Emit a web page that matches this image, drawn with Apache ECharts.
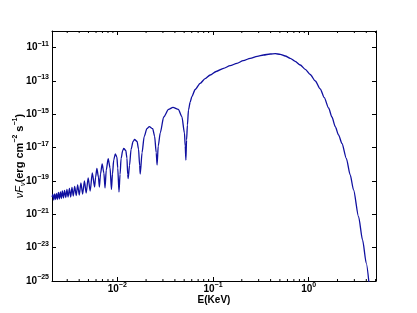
<!DOCTYPE html>
<html>
<head>
<meta charset="utf-8">
<script src="https://cdn.jsdelivr.net/npm/echarts@6/dist/echarts.min.js"></script>
<style>html,body{margin:0;padding:0;background:#fff}#c{width:417px;height:313px}</style>
</head>
<body>
<div id="c"></div>
<script>
// log10 of photon energy (keV)
const logEnergy = [
-2.681,-2.673,-2.663,-2.654,-2.645,-2.635,-2.626,-2.615,-2.605,-2.594,
-2.584,-2.574,-2.562,-2.551,-2.538,-2.526,-2.514,-2.500,-2.487,-2.473,
-2.460,-2.445,-2.429,-2.414,-2.397,-2.380,-2.362,-2.343,-2.325,-2.304,
-2.283,-2.261,-2.237,-2.226,-2.213,-2.197,-2.187,-2.175,-2.158,-2.140,
-2.128,-2.115,-2.095,-2.075,-2.061,-2.050,-2.037,-2.021,-2.004,-1.995,
-1.982,-1.971,-1.960,-1.943,-1.932,-1.911,-1.899,-1.891,-1.886,-1.872,
-1.856,-1.835,-1.819,-1.793,-1.778,-1.766,-1.760,-1.741,-1.719,-1.690,
-1.665,-1.630,-1.610,-1.593,-1.584,-1.572,-1.551,-1.515,-1.464,-1.418,
-1.362,-1.325,-1.298,-1.290,-1.283,-1.276,-1.267,-1.256,-1.238,-1.221,
-1.186,-1.134,-1.082,-1.029,-0.967,-0.890,-0.820,-0.750,-0.684,-0.611,
-0.538,-0.472,-0.402,-0.350,-0.297,-0.245,-0.193,-0.141,-0.088,-0.036,
0.016,0.069,0.121,0.163,0.208,0.243,0.278,0.312,0.348,0.393,
0.434,0.469,0.521,0.563,0.602,0.631
];
// log10 of nuF_nu (erg cm^-2 s^-1)
const logFlux = [
-19.96,-19.81,-20.14,-19.78,-20.11,-19.75,-20.11,-19.69,-20.08,-19.66,
-20.05,-19.60,-20.02,-19.57,-19.99,-19.51,-19.96,-19.45,-19.96,-19.39,
-19.90,-19.33,-19.87,-19.24,-19.84,-19.12,-19.78,-19.00,-19.72,-18.82,
-19.60,-18.52,-19.36,-18.76,-18.24,-18.76,-19.36,-18.58,-17.98,-18.52,
-19.42,-18.34,-17.66,-18.22,-19.51,-18.58,-17.74,-17.38,-17.56,-18.22,
-19.66,-18.61,-17.65,-17.17,-17.05,-17.17,-17.62,-18.61,-18.85,-18.07,
-17.11,-16.63,-16.51,-16.63,-17.08,-18.07,-18.58,-17.30,-16.34,-15.86,
-15.74,-15.86,-16.31,-17.30,-18.04,-16.90,-16.12,-15.16,-14.70,-14.58,
-14.70,-15.14,-16.12,-16.90,-17.74,-16.54,-15.64,-14.74,-14.26,-13.94,
-13.51,-13.14,-12.86,-12.64,-12.43,-12.24,-12.08,-11.94,-11.78,-11.64,
-11.52,-11.44,-11.38,-11.36,-11.40,-11.50,-11.64,-11.82,-12.04,-12.30,
-12.61,-13.00,-13.48,-14.00,-14.62,-15.16,-15.74,-16.24,-16.75,-17.64,
-18.64,-19.54,-21.14,-22.54,-23.94,-25.18
];
const xMin = 0.00208, xMax = 5.05;          // keV
const yMinExp = -25, yMaxExp = -10, yStep = 2; // decades of nuF_nu
const xMinorTicks = [0.003,0.004,0.005,0.006,0.007,0.008,0.009,
  0.02,0.03,0.04,0.05,0.06,0.07,0.08,0.09,
  0.2,0.3,0.4,0.5,0.6,0.7,0.8,0.9, 2,3,4,5];
const xName = 'E(KeV)';

const FONT = 'Liberation Sans, Arial, sans-serif';
const lineData = logEnergy.map((e, i) => [Math.pow(10, e), logFlux[i]]);

function supLabel(e) {
  return '{b|10}{s|' + (e < 0 ? '\u2212' : '') + Math.abs(e) + '}';
}
const labelRich = {
  b: { fontSize: 10, fontFamily: FONT, fontWeight: 'bold', color: '#000', lineHeight: 14, verticalAlign: 'middle' },
  s: { fontSize: 7, fontFamily: FONT, fontWeight: 'bold', color: '#000', lineHeight: 6, padding: [0, 0, 8, 0], verticalAlign: 'top' }
};
const axisLine = { show: true, onZero: false, lineStyle: { color: '#000', width: 1 } };
const tick = { show: true, inside: true, length: 4, lineStyle: { color: '#000', width: 1 } };

const chart = echarts.init(document.getElementById('c'), null, { renderer: 'canvas' });
chart.setOption({
  animation: false,
  backgroundColor: '#fff',
  grid: { left: 52, right: 41, top: 31, bottom: 32, containLabel: false, outerBoundsMode: 'none' },
  xAxis: [{
    type: 'log', logBase: 10, min: xMin, max: xMax, position: 'bottom',
    axisLine: axisLine, axisTick: tick, splitLine: { show: false },
    axisLabel: { show: true, margin: 1, showMinLabel: false, showMaxLabel: false,
      formatter: v => supLabel(Math.round(Math.log10(v))), rich: labelRich },
    name: xName, nameLocation: 'middle', nameGap: 14, nameMoveOverlap: false,
    nameTextStyle: { fontSize: 10, fontFamily: FONT, color: '#000', fontWeight: 'bold' }
  }, {
    type: 'log', logBase: 10, min: xMin, max: xMax, position: 'top',
    axisLine: axisLine, axisTick: tick, axisLabel: { show: false }, splitLine: { show: false }
  }],
  yAxis: [{
    type: 'value', min: yMinExp, max: yMaxExp, interval: yStep, position: 'left',
    axisLine: axisLine, axisTick: tick, splitLine: { show: false },
    axisLabel: { show: true, margin: 3, showMaxLabel: false,
      formatter: v => supLabel(Math.round(v)), rich: labelRich },
    name: '{i|\u03bdF}{sub|\u03bd}{r|(erg cm}{sup|\u22122}{r| s}{sup|\u22121}{r|)}',
    nameLocation: 'middle', nameGap: 25, nameRotate: 90, nameMoveOverlap: false,
    nameTextStyle: {
      rich: {
        i: { fontSize: 11, fontFamily: FONT, fontStyle: 'italic', color: '#000', lineHeight: 15, verticalAlign: 'middle' },
        sub: { fontSize: 7, fontFamily: FONT, fontStyle: 'italic', color: '#000', lineHeight: 6, padding: [6, 0, 0, 0], verticalAlign: 'bottom' },
        r: { fontSize: 11, fontFamily: FONT, fontWeight: 'bold', color: '#000', lineHeight: 15, verticalAlign: 'middle' },
        sup: { fontSize: 7, fontFamily: FONT, fontWeight: 'bold', color: '#000', lineHeight: 6, padding: [0, 0, 8, 0], verticalAlign: 'top' }
      }
    }
  }, {
    type: 'value', min: yMinExp, max: yMaxExp, interval: yStep, position: 'right',
    axisLine: axisLine, axisTick: tick, axisLabel: { show: false }, splitLine: { show: false }
  }],
  series: [{
    type: 'line', xAxisIndex: 0, yAxisIndex: 0, data: lineData,
    showSymbol: false, smooth: 0.25, smoothMonotone: 'x',
    lineStyle: { color: '#1010a0', width: 1.3 }, clip: true, silent: true
  }, {
    type: 'custom', xAxisIndex: 0, yAxisIndex: 0, silent: true, clip: false,
    data: xMinorTicks.map(v => [v, -20]),
    renderItem: function (params, api) {
      const v = api.value(0);
      const b = api.coord([v, yMinExp]);
      const t = api.coord([v, yMaxExp]);
      const st = { stroke: '#000', lineWidth: 1 };
      return { type: 'group', children: [
        { type: 'line', shape: { x1: b[0], y1: b[1], x2: b[0], y2: b[1] - 2 }, style: st },
        { type: 'line', shape: { x1: t[0], y1: t[1], x2: t[0], y2: t[1] + 2 }, style: st }
      ] };
    }
  }]
});
</script>
</body>
</html>
